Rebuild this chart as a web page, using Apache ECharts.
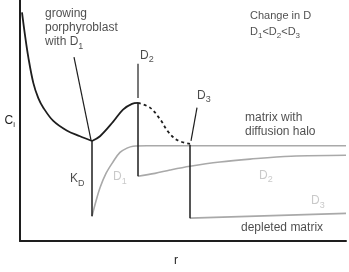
<!DOCTYPE html>
<html><head><meta charset="utf-8">
<script src="https://cdn.jsdelivr.net/npm/echarts@6/dist/echarts.min.js"></script>
<style>html,body{margin:0;padding:0;background:#fff}#c{width:349px;height:272px}</style>
</head><body><div id="c"></div>
<script>
// Concentration profiles (r, C)
const growthCurve = [[2,240],[5,216],[8.3,193],[13.3,166],[18.3,150],[23.3,140],[33.3,126],[46.7,116],[60,110],[72,105]];
const riseCurve   = [[72,105],[80,110],[93,125],[103,138],[112,144],[118,145]];
const haloCurve   = [[118,145],[130,140],[140,128],[148,115],[157,106],[170,102]];
const matrixD1 = [[72,26],[76,42],[80,56],[86,71],[93,83],[100,93],[107,97.5],[113,99.5],[127,100],[200,100],[326,100]];
const matrixD2 = [[118,68],[135,71],[150,74.5],[170,78.5],[200,83],[230,86],[271,89],[326,90]];
const matrixD3 = [[170,24],[326,29]];
const dropD1 = [[72,105],[72,26]];
const dropD2 = [[118,145],[118,68]];
const dropD3 = [[170,101],[170,24]];
const pointerD1 = [[54,193],[71,106]];
const pointerD2 = [[118,186],[118,150]];
const pointerD3 = [[177,140],[171,105]];

// Annotation texts and anchors (r, C)
const darkTexts = ['growing\nporphyroblast\nwith D{s|1}', 'D{s|2}', 'D{s|3}', 'matrix with\ndiffusion halo', 'K{s|D}', 'depleted matrix'];
const darkAnchors = [[25,224],[120,195],[177,153],[225,122],[50,65],[221,14]];
const legendTexts = ['Change in D\nD{t|1}<D{t|2}<D{t|3}'];
const legendAnchors = [[230,228]];
const grayTexts = ['D{g|1}', 'D{g|2}', 'D{g|3}'];
const grayAnchors = [[93,67],[239,69],[291,42]];

const FONT = '"Liberation Sans", Arial, Helvetica, sans-serif';
const DARK = '#1e1e1e', GRAY = '#a9a9a9', GRAYTXT = '#bcbcbc';

function lineSeries(data, color, width, type, smooth) {
  return {type:'line', data, symbol:'none', smooth: smooth || false,
    lineStyle:{color, width, type: type || 'solid'}, silent:true, animation:false, z: 3};
}
function labelSeries(texts, anchors, color, size, lh, rich) {
  return {type:'scatter', symbolSize:0, animation:false, silent:true, z:5,
    data: anchors.map((p,i)=>({value:p, label:{formatter: texts[i]}})),
    label:{show:true, position:'right', distance:0, color, fontSize:size, lineHeight:lh, fontFamily:FONT, align:'left', rich}};
}
const subRich = {
  s:{fontSize:9, lineHeight:9, padding:[9,0,0,0], color:DARK, fontFamily:FONT},
  t:{fontSize:8, lineHeight:8, padding:[8,0,0,0], color:DARK, fontFamily:FONT},
  g:{fontSize:9, lineHeight:9, padding:[9,0,0,0], color:GRAYTXT, fontFamily:FONT}
};

const chart = echarts.init(document.getElementById('c'), null, {renderer:'canvas'});
chart.setOption({
  animation:false,
  grid:{left:20, right:3, top:0, bottom:19, containLabel:false},
  xAxis:{type:'value', min:0, max:326, name:'r', nameLocation:'middle', nameGap:14,
    nameTextStyle:{fontSize:12, color:DARK, fontFamily:FONT, padding:[0,14,0,0]},
    axisLine:{show:true, onZero:false, lineStyle:{color:DARK, width:2}},
    axisTick:{show:false}, axisLabel:{show:false}, splitLine:{show:false}},
  yAxis:{type:'value', min:0, max:253, name:'C{s|i}', nameLocation:'middle', nameRotate:0, nameGap:5,
    nameTextStyle:{fontSize:12, color:DARK, fontFamily:FONT, align:'right',
      rich:{s:{fontSize:8, lineHeight:8, padding:[8,0,0,0], color:DARK, fontFamily:FONT}}},
    axisLine:{show:true, onZero:false, lineStyle:{color:DARK, width:2}},
    axisTick:{show:false}, axisLabel:{show:false}, splitLine:{show:false}},
  series:[
    lineSeries(matrixD1, GRAY, 1.6, null, 0.35),
    lineSeries(matrixD2, GRAY, 1.6, null, 0.35),
    lineSeries(matrixD3, GRAY, 1.6, null, false),
    lineSeries(growthCurve, DARK, 1.8, null, 0.35),
    lineSeries(riseCurve, DARK, 1.8, null, 0.35),
    lineSeries(haloCurve, DARK, 1.8, [3,3], 0.35),
    lineSeries(dropD1, DARK, 1.5, null, false),
    lineSeries(dropD2, DARK, 1.5, null, false),
    lineSeries(dropD3, DARK, 1.5, null, false),
    lineSeries(pointerD1, DARK, 1.2, null, false),
    lineSeries(pointerD2, DARK, 1.2, null, false),
    lineSeries(pointerD3, DARK, 1.2, null, false),
    labelSeries(darkTexts, darkAnchors, DARK, 12, 14, subRich),
    labelSeries(legendTexts, legendAnchors, DARK, 11, 16, subRich),
    labelSeries(grayTexts, grayAnchors, GRAYTXT, 12, 14, subRich)
  ]
});
</script></body></html>
